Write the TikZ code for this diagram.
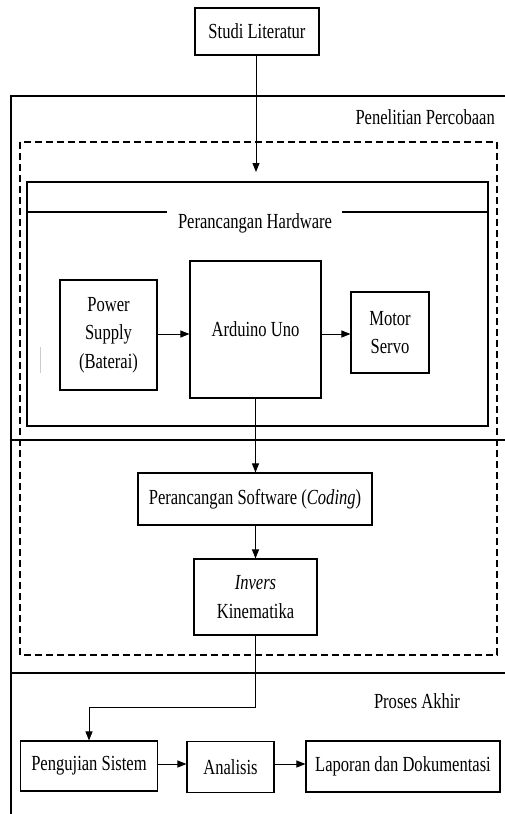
\documentclass[tikz,border=0pt]{standalone}
\usepackage{fontspec}
\setmainfont[FakeStretch=0.77]{Liberation Serif}
\usetikzlibrary{arrows.meta}
\begin{document}
\begin{tikzpicture}[x=1pt,y=-1pt,>={Triangle[length=9pt,width=7pt]},
  txt/.style={font=\fontsize{21.5}{28.5}\selectfont,align=center,inner sep=0pt},
  box/.style={txt,draw,line width=1.1pt},
  frame/.style={line width=2.5pt},
  flow/.style={->,line width=1pt}]
  \useasboundingbox (0,0) rectangle (504,814);
  % frames
  \draw[frame] (506,96) -- (11,96) -- (11,814);
  \draw[frame] (11,440) -- (506,440);
  \draw[frame] (11,673) -- (506,673);
  \draw[line width=1.2pt,dash pattern=on 7pt off 4pt] (20,142) rectangle (497,655);
  \draw[line width=1.1pt] (27,182) rectangle (488,426);
  \draw[line width=1.1pt] (27,212) -- (167,212) (342,212) -- (488,212);
  \draw[gray!40,line width=0.8pt] (40,347) -- (40,373);
  \node[txt,anchor=east] (pp) at (495,117) {Penelitian Percobaan};
  \node[txt] (hw) at (255,223) {Perancangan Hardware};
  \node[txt] (pa) at (417,701) {Proses Akhir};
  % blocks
  \node[box,minimum width=124pt,minimum height=47pt] (lit) at (257,31.5) {Studi Literatur};
  \node[box,minimum width=97pt,minimum height=110pt] (psu) at (108.5,335) {Power\\Supply\\(Baterai)};
  \node[box,minimum width=131pt,minimum height=137pt] (uno) at (255.5,329.5) {Arduino Uno};
  \node[box,minimum width=78pt,minimum height=81pt] (servo) at (390,332.5) {Motor\\Servo};
  \node[box,minimum width=234pt,minimum height=52pt] (soft) at (255,499) {Perancangan Software (\textit{Coding})};
  \node[box,minimum width=123pt,minimum height=76pt] (ik) at (255.5,597) {\textit{Invers}\\Kinematika};
  \node[box,minimum width=137pt,minimum height=50pt] (test) at (89,766) {Pengujian Sistem};
  \node[box,minimum width=87pt,minimum height=51pt] (anal) at (230.5,767) {Analisis};
  \node[box,minimum width=194pt,minimum height=51pt] (lap) at (403,766.5) {Laporan dan Dokumentasi};
  \coordinate (hwin) at (256,172);
  % arrows
  \draw[flow] (lit.south -| hwin) -- (hwin);
  \draw[flow] (psu.east |- 0,334) -- (uno.west |- 0,334);
  \draw[flow] (uno.east |- 0,334) -- (servo.west |- 0,334);
  \draw[flow] (uno.south) -- (soft.north -| uno.south);
  \draw[flow] (soft.south -| ik.north) -- (ik.north);
  \draw[flow] (ik.south) -- ++(0,72) -| (test.north);
  \draw[flow] (test.east |- 0,764) -- (anal.west |- 0,764);
  \draw[flow] (anal.east |- 0,764) -- (lap.west |- 0,764);
\end{tikzpicture}
\end{document}
